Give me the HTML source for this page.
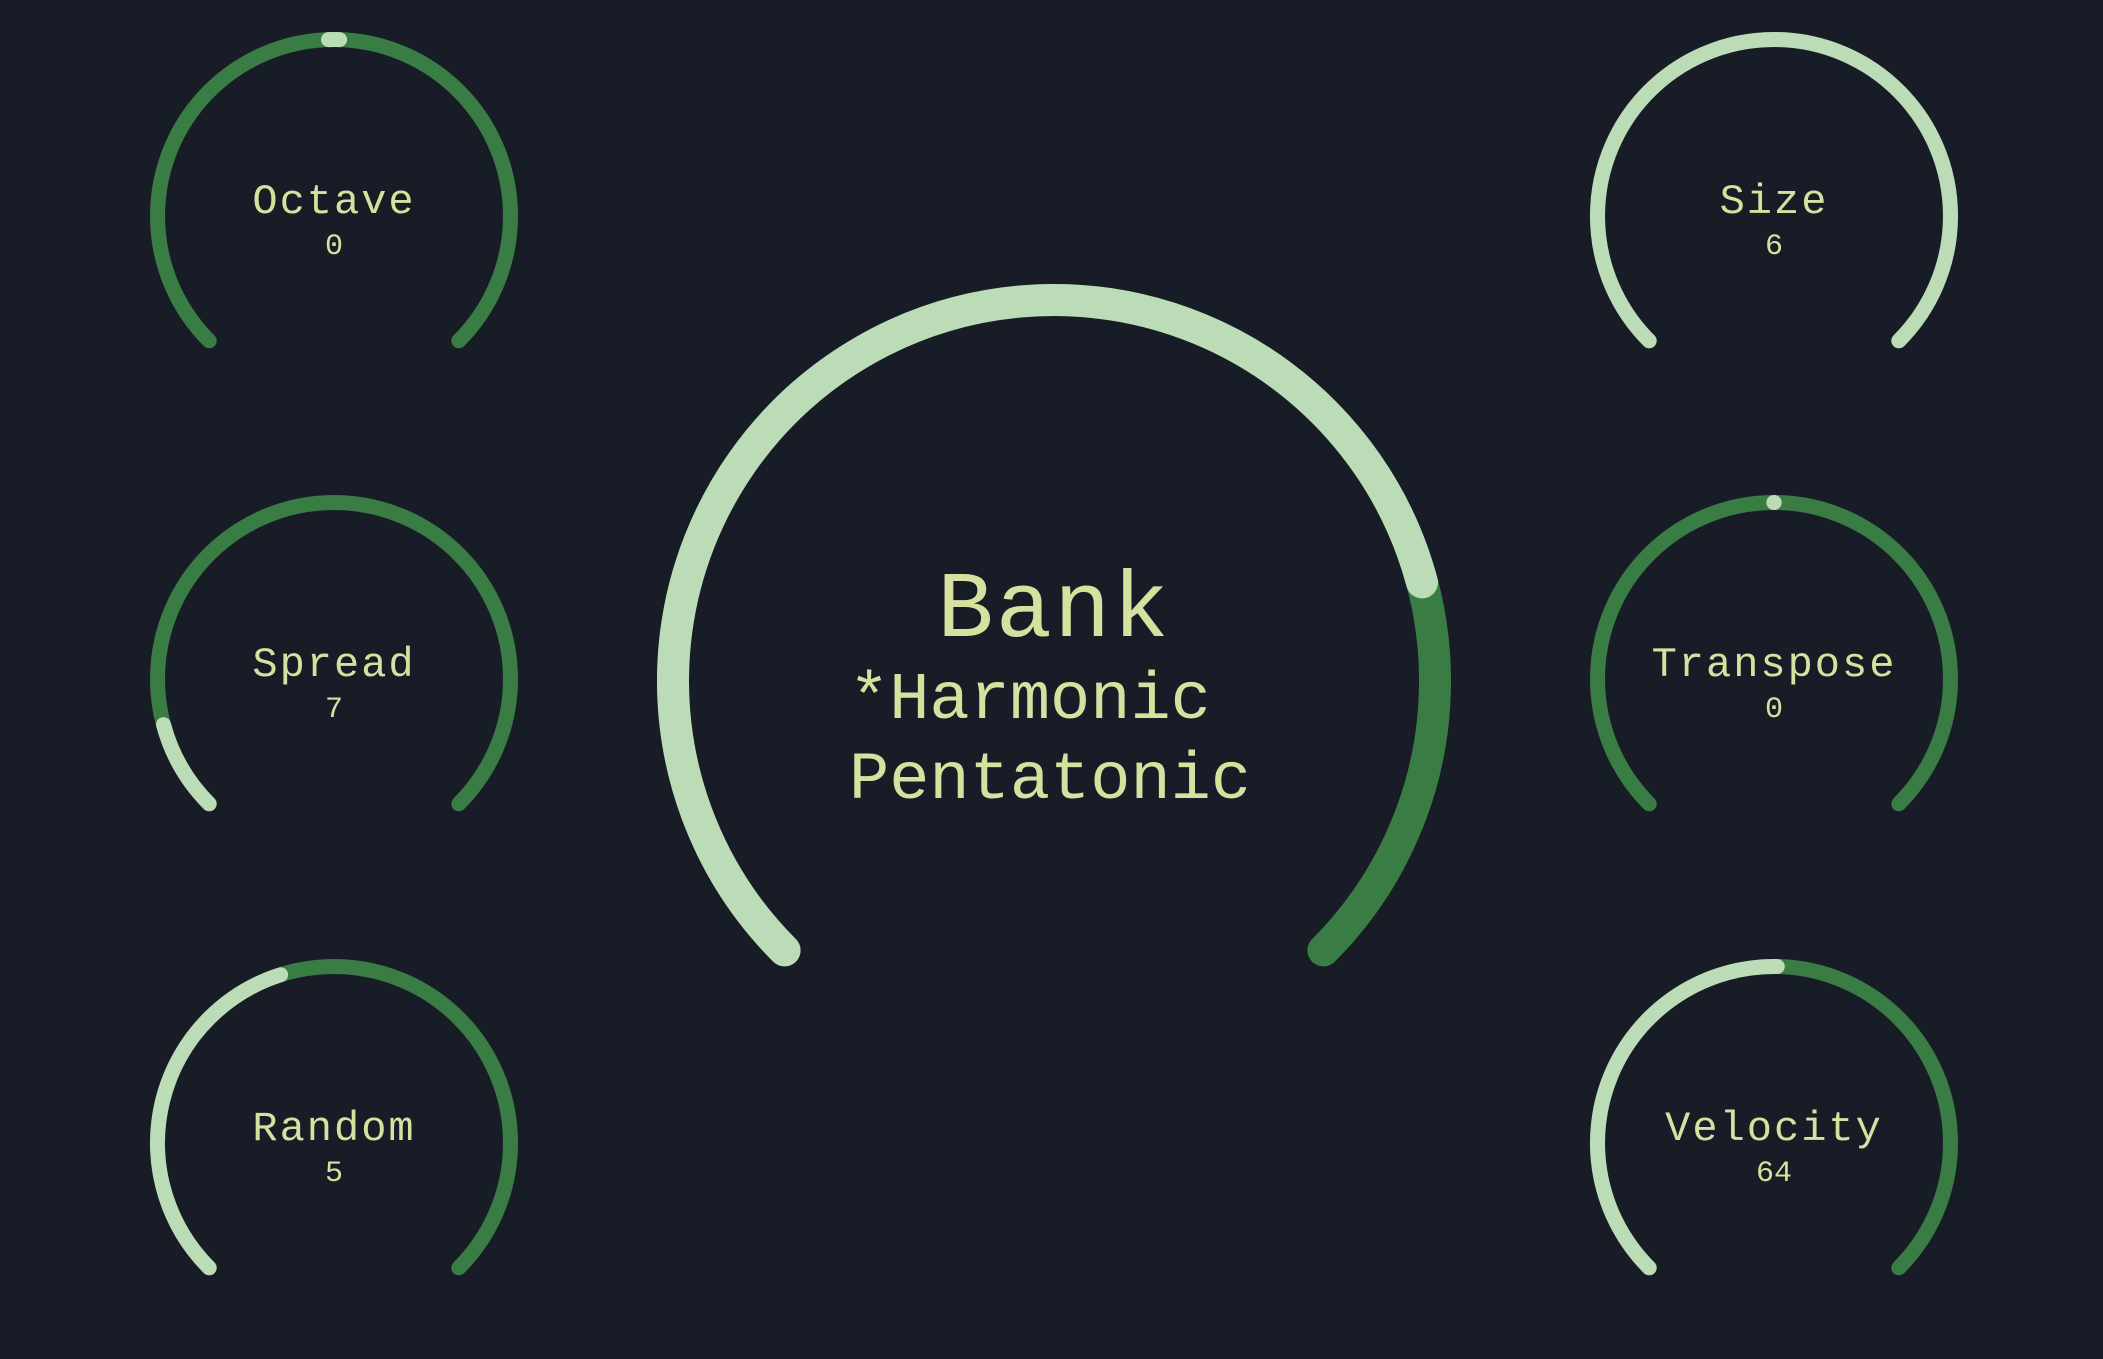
<!DOCTYPE html>
<html><head><meta charset="utf-8"><style>
html,body{margin:0;padding:0;background:#181c26;}
svg{display:block;}
text{font-family:"Liberation Mono",monospace;fill:#d6e19f;}
</style></head><body>
<svg id="s" width="2103" height="1359" viewBox="0 0 2103 1359">
<rect width="2103" height="1359" fill="#181c26"/>
</svg>
<script>
const knobNames = ["Octave","Spread","Random","Size","Transpose","Velocity"];
const knobValues = [0,7,5,6,0,64];
const knobMins = [-4,0,0,0,-12,0];
const knobMaxs = [4,63,11.5,6,12,127];
const knobBipolar = [true,false,false,false,true,false];
const bankName = "Bank";
const bankValue = 7;
const bankMax = 9;
const bankLines = ["*Harmonic","Pentatonic"];

const NS = "http://www.w3.org/2000/svg";
const svg = document.getElementById('s');
const DARK = "#3a7d44", LIGHT = "#bcdcb8";
const START = 225, SWEEP = 270;
function angleFor(frac){ return START - SWEEP*frac; }
function pt(cx,cy,r,a){ const t=a*Math.PI/180; return [cx+r*Math.cos(t), cy-r*Math.sin(t)]; }
function arcPath(cx,cy,r,a0,a1){
  const p0=pt(cx,cy,r,a0), p1=pt(cx,cy,r,a1);
  const large = (a0-a1)>180?1:0;
  return `M${p0[0]} ${p0[1]} A${r} ${r} 0 ${large} 1 ${p1[0]} ${p1[1]}`;
}
function mk(tag, attrs, parent){
  const e=document.createElementNS(NS,tag);
  for(const k in attrs) e.setAttribute(k,attrs[k]);
  (parent||svg).appendChild(e); return e;
}
function drawKnob(g,cx,cy,r,sw,frac,bipolar,half){
  const bg = mk('path',{d:arcPath(cx,cy,r,START,START-SWEEP),stroke:DARK,'stroke-width':sw,fill:'none','stroke-linecap':'round'},g);
  
  
  let d;
  if(bipolar){ const a=angleFor(frac); d=arcPath(cx,cy,r,a+half,a-half); }
  else if(frac>0){ d=arcPath(cx,cy,r,START,angleFor(frac)); }
  if(d){
    const fg = mk('path',{d:d,stroke:LIGHT,'stroke-width':sw,fill:'none','stroke-linecap':'round'},g);
    
    
  }
}
const colX=[334,1774], rowY=[216,679,1143];
knobNames.forEach((n,i)=>{
  const cx=colX[Math.floor(i/3)], cy=rowY[i%3];
  const g=mk('g',{});
  
  
  const range=knobMaxs[i]-knobMins[i];
  const frac=(knobValues[i]-knobMins[i])/range;
  drawKnob(g,cx,cy,176.5,15,frac,knobBipolar[i], range<=8?1.8:0.05);
  const t=mk('text',{x:cx,y:cy-3,'text-anchor':'middle','font-size':42,'letter-spacing':2},g);
  t.textContent=n;
  
  
  const v=mk('text',{x:cx,y:cy+38,'text-anchor':'middle','font-size':30},g);
  v.textContent=String(knobValues[i]);
  
  
});
// Bank
const bg=mk('g',{});


drawKnob(bg,1054,681,381,32,bankValue/bankMax,false,0);
const bt=mk('text',{x:1054,y:636,'text-anchor':'middle','font-size':94,'letter-spacing':2},bg);
bt.textContent=bankName;


bankLines.forEach((l,i)=>{
  const t=mk('text',{x:849,y:718+80*i,'font-size':67},bg);
  t.textContent=l;
  
  
});
</script>
</body></html>
